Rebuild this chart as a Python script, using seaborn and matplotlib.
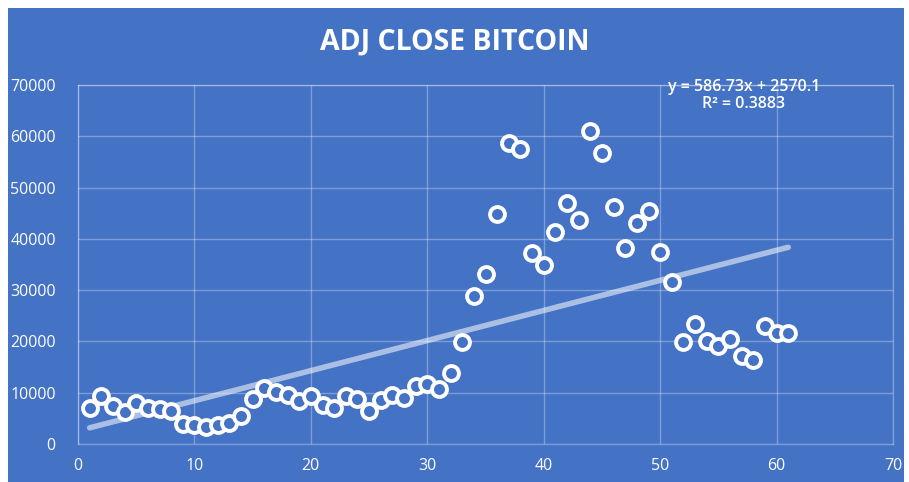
import numpy as np
import pandas as pd
import matplotlib
matplotlib.use('Agg')
import matplotlib.pyplot as plt
import seaborn as sns
from matplotlib.patches import Rectangle

## data
period = list(range(1, 62))
adj_close = [7000, 9360, 7420, 6320, 7950, 6980, 6780, 6390, 3930, 3740,
             3350, 3740, 4070, 5480, 8720, 10910, 10080, 9550, 8390, 9360,
             7560, 7090, 9420, 8720, 6390, 8530, 9500, 9030, 11300, 11690,
             10720, 13760, 19800, 28900, 33100, 44900, 58600, 57500, 37200, 34900,
             41400, 47000, 43600, 61100, 56700, 46200, 38300, 43000, 45400, 37500,
             31600, 19900, 23400, 20100, 19200, 20500, 17100, 16400, 23000, 21600,
             21700]
x_ticks = [0, 10, 20, 30, 40, 50, 60, 70]
y_ticks = [0, 10000, 20000, 30000, 40000, 50000, 60000, 70000]
slope = 586.73
intercept = 2570.1
r_squared = 0.3883

df = pd.DataFrame({'Period': period, 'Adj Close': adj_close})
trend = pd.DataFrame({'Period': [period[0], period[-1]]})
trend['Fit'] = slope * trend['Period'] + intercept

blue = '#4472C4'

sns.set_theme(style='white')
plt.rcParams['font.family'] = ['Open Sans', 'DejaVu Sans']

fig = plt.figure(figsize=(9.09, 4.82), dpi=100, facecolor='white')
# blue chart area (leaves a thin white margin top/left/right)
fig.patches.append(Rectangle((8 / 909, 0), 896 / 909, 474 / 482,
                             transform=fig.transFigure, facecolor=blue,
                             edgecolor='none', zorder=-10))
ax = fig.add_axes([78 / 909, (482 - 444) / 482, (893 - 78) / 909, (444 - 85) / 482])
ax.set_facecolor(blue)

# trendline
sns.lineplot(data=trend, x='Period', y='Fit', ax=ax, color='white', alpha=0.55,
             linewidth=4, solid_capstyle='round', zorder=2)
# data points: white rings
sns.scatterplot(data=df, x='Period', y='Adj Close', ax=ax, s=115, marker='o',
                facecolor=blue, edgecolor='white', linewidth=2.8, zorder=3)

ax.set_xlim(0, 70)
ax.set_ylim(0, 70000)
ax.set_xticks(x_ticks)
ax.set_yticks(y_ticks)
ax.set_xticklabels([str(t) for t in x_ticks])
ax.set_yticklabels([str(t) for t in y_ticks])
ax.tick_params(axis='both', colors='white', labelsize=11.5, length=0)
ax.tick_params(axis='y', pad=16)
ax.tick_params(axis='x', pad=10)
for lbl in ax.get_xticklabels() + ax.get_yticklabels():
    lbl.set_fontweight('medium')
ax.set_xlabel('')
ax.set_ylabel('')
ax.grid(True, color='white', alpha=0.3, linewidth=1)
for sp in ax.spines.values():
    sp.set_color('white')
    sp.set_alpha(0.3)
    sp.set_linewidth(1)

fig.text(0.5, 1 - 42 / 482, 'ADJ CLOSE BITCOIN', ha='center', va='center',
         color='white', fontsize=20.5, fontweight='bold')
ax.text(744 / 909, 1 - 87 / 482,
        'y = %.2fx + %.1f' % (slope, intercept), transform=fig.transFigure,
        ha='center', va='center', color='white', fontsize=11.5, fontweight='semibold')
ax.text(744 / 909, 1 - 104 / 482,
        'R² = %.4f' % r_squared, transform=fig.transFigure,
        ha='center', va='center', color='white', fontsize=11.5, fontweight='semibold')

fig.savefig('out.png', dpi=100, facecolor='white')
